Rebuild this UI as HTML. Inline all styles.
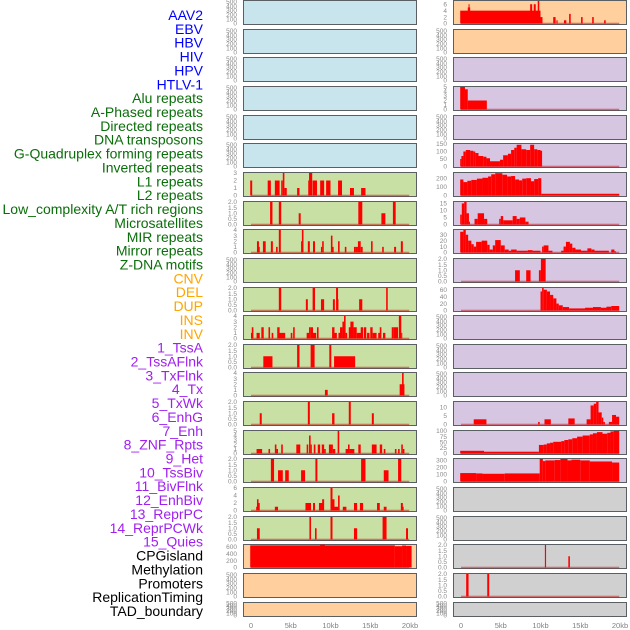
<!DOCTYPE html>
<html><head><meta charset="utf-8">
<style>
html,body{margin:0;padding:0;background:#fff;}
svg{display:block;font-family:"Liberation Sans",sans-serif;}
</style></head>
<body>
<svg id="chart" width="630" height="630" viewBox="0 0 630 630">
<g id="labels"></g>
<g id="panels"></g>
<g id="xaxis"></g>
</svg>
<script>
const trackLabels = ["AAV2","EBV","HBV","HIV","HPV","HTLV-1","Alu repeats","A-Phased repeats","Directed repeats","DNA transposons","G-Quadruplex forming repeats","Inverted repeats","L1 repeats","L2 repeats","Low_complexity A/T rich regions","Microsatellites","MIR repeats","Mirror repeats","Z-DNA motifs","CNV","DEL","DUP","INS","INV","1_TssA","2_TssAFlnk","3_TxFlnk","4_Tx","5_TxWk","6_EnhG","7_Enh","8_ZNF_Rpts","9_Het","10_TssBiv","11_BivFlnk","12_EnhBiv","13_ReprPC","14_ReprPCWk","15_Quies","CPGisland","Methylation","Promoters","ReplicationTiming","TAD_boundary"];
const labelColors = ["#0000ff","#0000ff","#0000ff","#0000ff","#0000ff","#0000ff","#0a6e0a","#0a6e0a","#0a6e0a","#0a6e0a","#0a6e0a","#0a6e0a","#0a6e0a","#0a6e0a","#0a6e0a","#0a6e0a","#0a6e0a","#0a6e0a","#0a6e0a","#ffa500","#ffa500","#ffa500","#ffa500","#ffa500","#a020f0","#a020f0","#a020f0","#a020f0","#a020f0","#a020f0","#a020f0","#a020f0","#a020f0","#a020f0","#a020f0","#a020f0","#a020f0","#a020f0","#a020f0","#000000","#000000","#000000","#000000","#000000"];
const leftBg = ["#c8e4ec","#c8e4ec","#c8e4ec","#c8e4ec","#c8e4ec","#c8e4ec","#c8e0a4","#c8e0a4","#c8e0a4","#c8e0a4","#c8e0a4","#c8e0a4","#c8e0a4","#c8e0a4","#c8e0a4","#c8e0a4","#c8e0a4","#c8e0a4","#c8e0a4","#ffd09e","#ffd09e","#ffd09e"];
const rightBg = ["#ffd09e","#ffd09e","#d6c6e2","#d6c6e2","#d6c6e2","#d6c6e2","#d6c6e2","#d6c6e2","#d6c6e2","#d6c6e2","#d6c6e2","#d6c6e2","#d6c6e2","#d6c6e2","#d6c6e2","#d6c6e2","#d6c6e2","#d0d0d0","#d0d0d0","#d0d0d0","#d0d0d0","#d0d0d0"];
const leftYMax = [520,520,520,520,520,520,3,2,4,520,2,4,2,4,2,5,2,6,2,650,520,520];
const rightYMax = [7,520,520,5,520,150,260,16,38,2,65,520,520,520,13,100,320,520,520,2,2,520];
const emptyTicks = [0,100,200,300,400,500];
const leftTicks = [emptyTicks,emptyTicks,emptyTicks,emptyTicks,emptyTicks,emptyTicks,[0,1,2,3],[0,0.5,1,1.5,2],[0,1,2,3,4],emptyTicks,[0,0.5,1,1.5,2],[0,1,2,3,4],[0,0.5,1,1.5,2],[0,1,2,3,4],[0,0.5,1,1.5,2],[0,1,2,3,4,5],[0,0.5,1,1.5,2],[0,2,4,6],[0,0.5,1,1.5,2],[0,200,400,600],emptyTicks,emptyTicks];
const rightTicks = [[0,2,4,6],emptyTicks,emptyTicks,[0,1,2,3,4,5],emptyTicks,[0,50,100,150],[0,100,200],[0,5,10,15],[0,10,20,30],[0,0.5,1,1.5,2],[0,20,40,60],emptyTicks,emptyTicks,emptyTicks,[0,5,10],[0,25,50,75,100],[0,100,200,300],emptyTicks,emptyTicks,[0,0.5,1,1.5,2],[0,0.5,1,1.5,2],emptyTicks];
const leftSeries = [[],[],[],[],[],[],
[[-0.1,0.15,2],[2.1,2.5,2],[3.0,3.6,2],[3.8,4.0,2],[4.0,4.2,3],[4.2,4.5,1],[5.8,6.1,1],[7.2,7.3,2],[7.3,7.7,3],[7.75,8.3,2],[8.7,9.2,2],[9.45,10.0,2],[10.95,11.45,2],[12.45,12.95,1],[13.85,14.4,1]],
[[2.4,2.7,2],[3.5,3.8,2],[6.0,6.25,1],[13.5,14.0,2],[16.4,16.9,1],[17.85,18.2,2]],
[[0.75,1.0,2],[0.9,1.1,1],[1.5,1.85,2],[2.5,2.75,2],[3.15,3.35,1],[3.5,3.75,4],[6.3,6.55,2],[6.4,6.6,4],[7.15,7.4,2],[7.8,8.05,2],[8.8,8.95,1],[8.95,9.15,2],[10.05,10.25,3],[10.2,10.4,1],[10.95,11.15,2],[11.8,12.0,1],[12.95,13.1,1],[13.1,13.45,1],[13.45,13.8,2],[13.8,14.05,1],[15.1,15.3,2],[16.5,16.7,1],[18.0,18.25,1],[18.85,19.1,2]],
[],
[[3.5,3.8,2],[6.9,7.15,1],[7.75,8.05,2],[8.8,9.2,1],[10.3,10.55,1],[10.7,10.95,2],[10.8,11.0,1],[13.6,14.0,1],[17.0,17.2,2]],
[[0,0.25,1],[0.1,0.3,2],[0.7,1.1,1],[1.3,1.6,2],[2.2,2.4,2],[2.6,2.8,1],[3.3,3.6,2],[3.5,4.3,1],[5.0,5.2,1],[5.3,5.5,2],[7.0,7.3,1],[7.3,7.5,2],[7.5,7.8,2],[7.6,8.2,1],[8.3,8.5,2],[10.2,10.5,2],[10.5,10.8,1],[11.0,11.3,1],[11.2,11.5,2],[11.5,11.7,3],[11.7,11.9,4],[11.9,12.1,1],[12.3,12.6,2],[12.5,12.9,3],[12.9,13.3,2],[13.3,14.0,1],[13.8,14.1,2],[14.2,14.5,2],[14.6,14.9,1],[15.0,15.3,2],[15.3,15.8,1],[16.0,16.3,1],[16.2,16.4,2],[16.6,16.9,1],[17.7,17.9,2],[17.9,18.5,2],[18.1,18.3,1],[18.6,18.9,4],[18.9,19.0,1]],
[[1.55,2.7,1],[5.8,6.1,2],[7.5,8.0,2],[9.85,10.1,2],[10.45,13.1,1]],
[[9.3,9.65,1],[18.7,19.3,2],[19.0,19.2,4]],
[[1.1,1.35,1],[7.15,7.4,2],[10.2,10.5,1],[12.3,12.55,2],[15.2,15.45,1]],
[[0.7,1.4,1],[2.2,2.4,1],[3.0,3.2,2],[3.2,3.4,1],[3.8,4.0,2],[5.7,6.2,2],[7.0,7.2,2],[7.3,7.5,4],[7.5,7.65,2],[7.9,8.1,2],[8.4,8.7,2],[8.9,9.2,2],[9.2,9.4,1],[9.8,10.0,2],[10.0,10.3,2],[10.3,10.6,1],[10.9,11.1,5],[11.9,12.2,1],[12.2,12.4,2],[12.4,13.0,1],[13.5,13.8,2],[15.2,15.8,2],[16.2,16.5,2],[16.7,16.9,1],[18.1,18.3,1],[18.5,18.7,1],[18.9,19.1,2],[19.1,19.3,1]],
[[2.5,2.9,2],[3.4,4.0,1],[4.3,4.75,1],[6.3,6.8,1],[8.1,8.35,2],[13.85,14.4,2],[16.7,17.3,1],[18.5,18.9,2]],
[[0.65,1.05,1],[0.75,0.95,3],[0.9,1.1,2],[3.0,3.4,1],[6.85,7.55,2],[7.8,8.05,2],[8.55,9.0,2],[8.95,9.2,3],[10.0,10.25,6],[10.25,10.5,3],[10.5,10.95,1],[10.95,11.15,4],[11.55,12.0,1],[12.95,13.35,2],[13.7,14.1,2],[15.85,16.2,2],[16.7,17.05,1],[18.85,19.1,2],[19.0,19.2,1]],
[[0.75,1.1,1],[7.35,7.55,2],[8.05,8.25,1],[10.0,10.25,2],[12.95,13.35,1],[16.55,17.05,2],[19.5,19.75,1]],
[[-0.1,18.1,640],[8.7,9.3,660],[18.1,19.0,615],[19.0,19.5,635],[19.5,20.2,625]],
[],[]];
const rightSeries = [
[[-0.1,10.0,4],[0.85,1.15,5],[0.95,1.05,6],[8.7,8.95,6],[9.15,9.4,6],[9.65,9.85,7],[10.0,10.25,2],[11.6,11.9,2],[12.0,12.15,1],[12.95,13.25,1],[13.6,13.8,3],[15.1,15.3,2],[16.5,16.7,2],[18.0,18.2,1]],
[],[],
[[-0.1,0.5,5],[0.5,0.85,4.5],[0.85,3.25,2]],
[],
[[-0.1,0.05,50],[0.05,0.3,70],[0.3,0.6,100],[0.6,1.15,110],[1.15,1.55,105],[1.55,1.8,100],[1.8,2.2,90],[2.2,2.8,70],[2.8,3.2,65],[3.2,3.65,55],[3.65,4.9,35],[4.9,5.3,45],[5.3,5.9,75],[5.9,6.3,85],[6.3,6.7,110],[6.7,7.0,125],[7.0,7.6,145],[7.6,8.2,115],[8.2,8.7,110],[8.7,9.2,145],[9.2,9.6,115],[9.6,10.0,110],[10.0,10.2,105]],
[[-0.1,0.3,185],[0.3,0.8,155],[0.8,1.3,170],[1.3,2.0,180],[2.0,2.7,195],[2.7,3.4,205],[3.4,3.8,220],[3.8,4.3,245],[4.3,5.2,258],[5.2,5.8,240],[5.8,6.3,220],[6.3,6.8,225],[6.8,7.3,185],[7.3,7.7,175],[7.7,8.2,195],[8.2,8.8,200],[8.8,9.2,165],[9.2,9.7,190],[9.7,10.1,200],[10.1,19.9,20]],
[[-0.1,0.1,7],[0.1,0.4,15],[0.4,0.7,16],[0.7,1.0,8],[1.0,1.1,2],[1.7,2.1,4],[2.1,2.9,8],[2.9,3.3,4],[4.8,5.0,4],[5.0,5.3,6],[5.3,6.5,3],[6.5,7.0,6],[7.0,7.4,4],[7.4,8.1,5],[8.1,8.5,2]],
[[-0.1,0.3,35],[0.3,0.6,38],[0.6,0.9,30],[0.9,1.3,20],[1.3,1.6,14],[1.6,1.9,10],[1.9,2.6,18],[2.6,3.3,20],[3.3,3.6,13],[3.6,4.0,5],[4.0,4.3,12],[4.3,5.0,21],[5.0,5.5,12],[5.5,6.0,5],[6.0,6.3,3],[6.3,7.0,5],[7.0,8.4,3],[8.4,9.0,4],[9.0,10.0,3],[10.2,10.4,10],[10.4,11.0,12],[11.0,11.5,3],[12.6,12.9,3],[12.9,13.2,10],[13.2,13.7,18],[13.7,14.0,15],[14.0,14.4,8],[14.4,15.1,5],[15.1,15.9,3],[15.9,16.4,7],[16.4,16.8,5],[16.8,18.6,3],[18.9,19.3,5],[19.3,19.5,2]],
[[6.8,7.4,1],[8.2,8.75,1],[9.8,10.05,1],[10.05,10.65,2]],
[[10.0,10.2,55],[10.2,10.4,65],[10.4,10.8,60],[10.8,11.2,55],[11.2,11.6,45],[11.6,12.0,35],[12.0,12.3,20],[12.3,12.8,15],[12.8,13.6,10],[13.6,15.6,6],[15.6,16.6,8],[16.6,17.6,10],[17.6,18.3,8],[18.3,18.9,11],[18.9,19.9,13]],
[],[],[],
[[1.6,3.2,3],[9.7,9.9,1.5],[10.5,11.3,3],[13.5,14.3,3.5],[15.8,16.3,3],[16.3,16.7,11],[16.7,17.0,12],[17.0,17.3,13],[17.3,17.7,7],[17.7,17.9,4],[17.9,18.1,1.5],[18.6,19.0,1.5],[19.0,19.5,5.5],[19.5,19.9,4.5]],
[[-0.1,2.9,12],[2.9,9.8,8],[9.8,10.4,38],[10.4,10.8,40],[10.8,11.2,45],[11.2,11.6,48],[11.6,12.6,52],[12.6,13.0,55],[13.0,13.5,60],[13.5,14.0,63],[14.0,14.6,68],[14.6,15.3,75],[15.3,16.2,80],[16.2,16.6,85],[16.6,17.1,90],[17.1,17.8,95],[17.8,18.4,88],[18.4,18.8,92],[18.8,19.2,98],[19.2,19.9,100]],
[[-0.1,1.9,120],[1.9,2.7,115],[2.7,5.5,110],[5.5,9.9,115],[9.9,10.3,320],[10.3,10.6,290],[10.6,11.8,300],[11.8,12.5,305],[12.5,13.4,320],[13.4,13.9,300],[13.9,15.0,310],[15.0,16.2,300],[16.2,19.0,285],[19.0,19.9,270]],
[],[],
[[10.55,10.7,2],[13.5,13.7,1]],
[[0.65,0.95,2],[3.3,3.55,2]],
[]];
const xTickValues = [0,5,10,15,20];
const xTickLabels = ["0","5kb","10kb","15kb","20kb"];

const NS = "http://www.w3.org/2000/svg";
function mk(tag, attrs, parent){ const e=document.createElementNS(NS,tag); for(const k in attrs) e.setAttribute(k,attrs[k]); parent.appendChild(e); return e; }
const colX = [243, 453];
const PW = 174;
function rowTop(i){ return Math.round(28.65*i); }
function rowH(i){ return i===21 ? 15 : 25; }
function xScale(col, kb){ return colX[col] + 8 + kb*7.95; }
function yScale(i, ymax, v){ const t=rowTop(i), h=rowH(i); return t+h-1.5 - v/ymax*(h-2.5); }
function fmt(v){ return (Number.isInteger(v) && v>=10) ? String(v) : (v%1===0 && v<10 && v>=0 ? String(v) : String(v)); }

const labelsG = document.getElementById('labels');
trackLabels.forEach((name, k) => {
  const t = mk('text', {x:203, y:15 + k*13.86 + 5, 'text-anchor':'end', 'font-size':14, fill:labelColors[k]}, labelsG);
  t.textContent = name;
  
  
});

const panelsG = document.getElementById('panels');
function drawPanel(col, i, bg, ymax, ticks, series){
  const g = mk('g', {}, panelsG);
  
  
  const t=rowTop(i), h=rowH(i), x0=colX[col];
  const r = mk('rect', {x:x0+0.5, y:t+0.5, width:PW-1, height:h-1, fill:bg, stroke:'#5a5f64', 'stroke-width':1}, g);
  
  
  const hasTwoDec = ticks.some(v => v%1!==0);
  ticks.forEach(v => {
    const ty = yScale(i, ymax, v);
    const tl = mk('text', {x:x0-6, y:ty+2.2, 'text-anchor':'end', 'font-size':6.5, fill:'#8a8a8a'}, g);
    tl.textContent = hasTwoDec ? v.toFixed(1) : String(v);
    
    
  });
  if (series.length) {
    const base = mk('rect', {x:xScale(col,0), y:yScale(i,ymax,0)-0.8, width:xScale(col,19.9)-xScale(col,0), height:1.6, fill:'rgba(190,0,0,0.45)'}, g);
    
    
  }
  series.forEach(d => {
    const xa = xScale(col,d[0]), xb = xScale(col,d[1]);
    const ya = yScale(i,ymax,d[2]), yb = yScale(i,ymax,0);
    const b = mk('rect', {x:xa, y:ya, width:Math.max(1,xb-xa), height:Math.max(0.5,yb-ya), fill:'#ff0000'}, g);
    
    
  });
}
for (let i=0;i<22;i++){
  drawPanel(0, i, leftBg[i], leftYMax[i], leftTicks[i], leftSeries[i]);
  drawPanel(1, i, rightBg[i], rightYMax[i], rightTicks[i], rightSeries[i]);
}

const xG = document.getElementById('xaxis');
[0,1].forEach(col => {
  xTickValues.forEach((v, k) => {
    const tx = mk('text', {x:xScale(col,v), y:628, 'text-anchor':'middle', 'font-size':7.5, fill:'#808080'}, xG);
    tx.textContent = xTickLabels[k];
    
    
  });
});
</script>
</body></html>
